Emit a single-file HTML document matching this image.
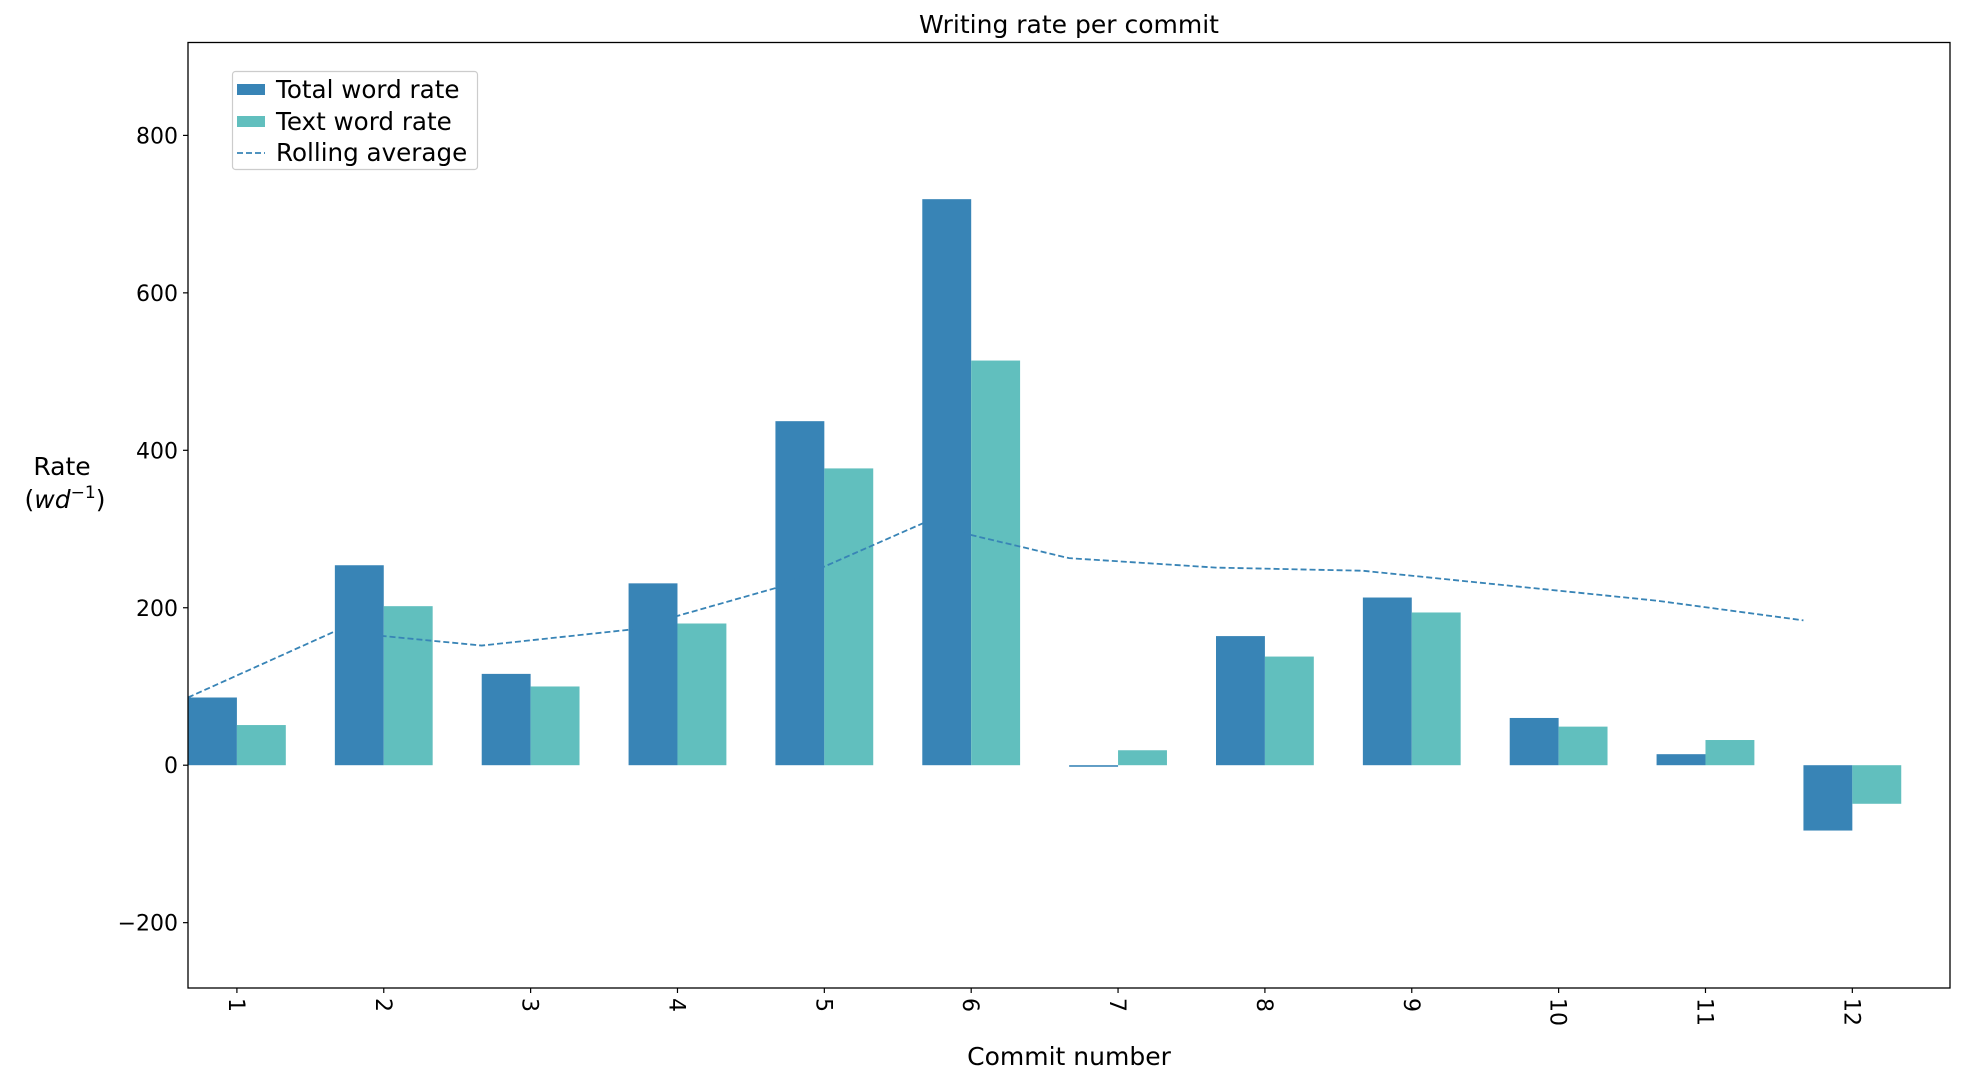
<!DOCTYPE html>
<html><head><meta charset="utf-8"><style>
html,body{margin:0;padding:0;background:#fff;}
svg text{font-family:"DejaVu Sans","Liberation Sans",sans-serif;fill:#000;}
</style></head><body>
<svg id="chart" width="1964" height="1083" viewBox="0 0 1964 1083" xmlns="http://www.w3.org/2000/svg">
<text x="1069" y="33" font-size="25" text-anchor="middle">Writing rate per commit</text>
<g id="bars"></g>
<g id="line"></g>
<rect x="188" y="42.5" width="1762" height="945.5" fill="none" stroke="#000" stroke-width="1.3"/>
<g id="yticks"></g>
<g id="xticks"></g>
<text x="1069" y="1065" font-size="25" text-anchor="middle">Commit number</text>
<text x="62" y="475" font-size="25" text-anchor="middle">Rate</text>
<text x="65" y="508" font-size="25" text-anchor="middle">(<tspan font-style="italic">wd</tspan><tspan font-size="17" dy="-10">−1</tspan><tspan dy="10">)</tspan></text>
<g>
<rect x="232.5" y="71.5" width="245" height="98" rx="3" fill="#fff" stroke="#ccc" stroke-width="1.2"/>
<rect x="237" y="84" width="28" height="11" fill="#3884b6"/>
<text x="276" y="98" font-size="24.6">Total word rate</text>
<rect x="237" y="116" width="28" height="11" fill="#61bfbe"/>
<text x="276" y="130" font-size="24.6">Text word rate</text>
<line x1="237" y1="153" x2="265" y2="153" stroke="#3884b6" stroke-width="1.8" stroke-dasharray="6,3"/>
<text x="276" y="161" font-size="24.6">Rolling average</text>
</g>
</svg>
<script>
const categories = [1,2,3,4,5,6,7,8,9,10,11,12];
const totalRate = [86,254,116,231,437,719,-2,164,213,60,14,-83];
const textRate = [51,202,100,180,377,514,19,138,194,49,32,-49];
const rollingAvg = [86,170,152,172,225,307,263,251,247,228,209,184];
const yTicks = [-200,0,200,400,600,800];
const NS = "http://www.w3.org/2000/svg";
const L=188,R=1950,T=42.5,B=988;
const xmin=0.667,xmax=12.665,ymin=-283,ymax=918;
const X=v=>L+(v-xmin)/(xmax-xmin)*(R-L);
const Y=v=>B-(v-ymin)/(ymax-ymin)*(B-T);
const bw=0.333;
function mk(tag,attrs){const e=document.createElementNS(NS,tag);for(const k in attrs)e.setAttribute(k,attrs[k]);return e;}
const bars=document.getElementById('bars');
categories.forEach((c,i)=>{
  const x0=X(c-bw),x1=X(c),x2=X(c+bw);
  let v=totalRate[i];
  let r=mk('rect',{x:x0,y:Math.min(Y(v),Y(0)),width:x1-x0,height:Math.max(Math.abs(Y(v)-Y(0)),1),fill:'#3884b6'});
  
  
  bars.appendChild(r);
  v=textRate[i];
  r=mk('rect',{x:x1,y:Math.min(Y(v),Y(0)),width:x2-x1,height:Math.max(Math.abs(Y(v)-Y(0)),1),fill:'#61bfbe'});
  
  
  bars.appendChild(r);
});
const pts=categories.map((c,i)=>X(c-bw)+','+Y(rollingAvg[i])).join(' ');
const pl=mk('polyline',{points:pts,fill:'none',stroke:'#3884b6','stroke-width':1.8,'stroke-dasharray':'6,3'});


document.getElementById('line').appendChild(pl);
const yt=document.getElementById('yticks');
yTicks.forEach(t=>{
  const y=Y(t);
  const ln=mk('line',{x1:L-5,x2:L,y1:y,y2:y,stroke:'#000','stroke-width':1.2});
  
  
  yt.appendChild(ln);
  const tx=mk('text',{x:L-10,y:y+8,'font-size':22,'text-anchor':'end'});
  
  
  tx.textContent=t<0?'\u2212'+Math.abs(t):String(t);
  yt.appendChild(tx);
});
const xt=document.getElementById('xticks');
categories.forEach(c=>{
  const x=X(c);
  const ln=mk('line',{x1:x,x2:x,y1:B,y2:B+5,stroke:'#000','stroke-width':1.2});
  
  
  xt.appendChild(ln);
  const tx=mk('text',{x:0,y:0,'font-size':22,transform:`translate(${x-8},${B+10}) rotate(90)`});
  
  
  tx.textContent=String(c);
  xt.appendChild(tx);
});
</script>
</body></html>
